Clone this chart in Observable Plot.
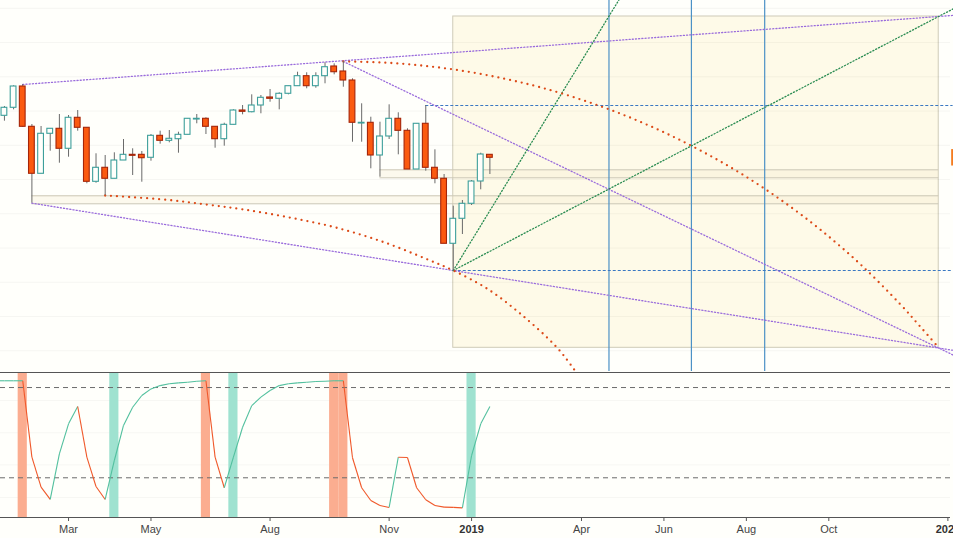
<!DOCTYPE html>
<html><head><meta charset="utf-8">
<script src="https://cdn.jsdelivr.net/npm/d3@7"></script>
<script src="https://cdn.jsdelivr.net/npm/@observablehq/plot@0.6"></script>
<style>
html,body{margin:0;padding:0;background:#fffffb;overflow:hidden}
#chart svg{display:block}
</style></head><body><div id="chart"></div>
<script>
// ---- weekly candles ----
const dates = ["2018-01-15","2018-01-22","2018-01-29","2018-02-05","2018-02-12","2018-02-19","2018-02-26","2018-03-05","2018-03-12","2018-03-19","2018-03-26","2018-04-02","2018-04-09","2018-04-16","2018-04-23","2018-04-30","2018-05-07","2018-05-14","2018-05-21","2018-05-28","2018-06-04","2018-06-11","2018-06-18","2018-06-25","2018-07-02","2018-07-09","2018-07-16","2018-07-23","2018-07-30","2018-08-06","2018-08-13","2018-08-20","2018-08-27","2018-09-03","2018-09-10","2018-09-17","2018-09-24","2018-10-01","2018-10-08","2018-10-15","2018-10-22","2018-10-29","2018-11-05","2018-11-12","2018-11-19","2018-11-26","2018-12-03","2018-12-10","2018-12-17","2018-12-24","2018-12-31","2019-01-07","2019-01-14","2019-01-21"];
const open  = [2786.1,2809.5,2871.7,2754.0,2616.8,2733.6,2748.2,2689.8,2780.3,2751.1,2593.4,2634.3,2602.2,2655.6,2672.2,2672.2,2663.5,2727.7,2713.1,2717.8,2730.6,2775.3,2777.4,2754.0,2717.8,2759.8,2801.6,2796.6,2816.2,2839.6,2835.8,2850.4,2872.6,2901.8,2872.6,2901.8,2930.1,2915.5,2889.2,2763.6,2765.7,2670.2,2725.7,2777.4,2742.3,2629.3,2762.8,2634.3,2602.2,2412.4,2485.4,2529.2,2594.3,2672.2];
const high  = [2813.3,2873.7,2877.5,2760.7,2754.9,2748.2,2789.9,2787.0,2801.6,2751.1,2675.2,2670.2,2678.1,2716.9,2689.8,2681.9,2731.5,2741.2,2743.2,2738.2,2777.4,2789.9,2780.3,2754.0,2764.5,2803.6,2816.2,2847.4,2845.4,2862.9,2853.3,2872.6,2913.4,2911.7,2911.7,2940.9,2938.0,2944.7,2894.2,2821.2,2782.0,2767.4,2818.2,2794.9,2748.2,2762.8,2816.2,2686.8,2614.7,2522.2,2538.8,2597.2,2676.9,2672.2];
const low   = [2770.4,2803.6,2752.0,2530.9,2616.8,2682.8,2647.7,2665.2,2741.2,2587.6,2589.3,2553.4,2602.2,2655.6,2611.8,2592.2,2653.6,2703.2,2707.3,2676.9,2730.6,2762.8,2731.5,2691.5,2697.4,2759.8,2789.0,2794.9,2792.0,2825.8,2803.6,2847.4,2872.6,2865.0,2866.7,2879.6,2905.8,2869.6,2709.0,2709.0,2631.4,2606.8,2716.9,2672.2,2629.3,2629.3,2624.4,2587.6,2412.4,2334.4,2439.5,2524.2,2570.0,2614.7];
const close = [2809.5,2871.7,2754.0,2616.8,2733.6,2748.2,2689.8,2780.3,2751.1,2593.4,2634.3,2602.2,2655.6,2672.2,2669.3,2662.3,2727.7,2713.1,2719.0,2730.6,2777.4,2777.4,2754.0,2717.8,2759.8,2801.6,2797.8,2816.2,2838.7,2835.8,2850.4,2872.6,2901.8,2872.6,2901.8,2928.0,2913.4,2889.2,2765.7,2765.7,2670.2,2725.7,2777.4,2742.3,2629.3,2762.8,2634.3,2602.2,2412.4,2485.4,2529.2,2594.3,2673.1,2663.5];

// ---- price grid (faint) ----
const priceGrid = [2100,2200,2300,2400,2500,2600,2700,2800,2900,3000,3100];

// ---- projection box and zones ----
const boxStart = "2018-12-24", boxEnd = "2019-12-30";
const boxLow = 2108.7, boxHigh = 3076.1;
const zoneStarts = ["2018-02-05","2018-10-29"];
const zoneLows   = [2529.2, 2605.1];
const zoneHighs  = [2552.5, 2628.4];

// ---- time marks (blue verticals) ----
const timeMarks = ["2019-04-22","2019-06-24","2019-08-19"];

// ---- horizontal dashed levels ----
const levelStarts = ["2018-12-03","2018-12-24"];
const levelPrices = [2816.2, 2334.4];
const lineEnd = "2020-01-10";

// ---- trendlines (dotted purple) ----
const trendUpperDates = ["2018-01-29","2020-01-10"], trendUpperPrices = [2877.5, 3079.3];
const trendLowerDates = ["2018-02-05","2020-01-10"], trendLowerPrices = [2530.9, 2101.4];
const trendPeakDates  = ["2018-10-01","2020-01-10"], trendPeakPrices  = [2944.7, 2087.7];

// ---- fan lines (dotted green) ----
const fanSteepDates = ["2018-12-24","2019-05-04"], fanSteepPrices = [2334.4, 3152.0];
const fanFlatDates  = ["2018-12-24","2020-01-10"], fanFlatPrices  = [2334.4, 3098.3];

// ---- arcs (dotted orange) ----
const arcUpperDates = ["2018-10-01","2018-11-01","2018-12-01","2019-01-01","2019-02-01","2019-03-01","2019-04-01","2019-05-01","2019-06-01","2019-07-01","2019-08-01","2019-09-01","2019-10-01","2019-11-01","2019-12-01","2019-12-15","2019-12-30"];
const arcUpperPrices = [2944.7,2941.5,2932.4,2916.9,2894.5,2868.8,2833.1,2792.0,2741.4,2684.5,2617.1,2538.8,2452.1,2349.3,2234.2,2174.4,2108.7];
const arcLowerDates = ["2018-04-02","2018-05-19","2018-06-20","2018-07-17","2018-08-22","2018-09-26","2018-11-01","2018-12-05","2018-12-24","2019-01-19","2019-02-14","2019-03-13","2019-03-27","2019-04-04"];
const arcLowerPrices = [2553.4,2540.9,2526.2,2512.5,2488.3,2459.1,2417.0,2365.6,2334.4,2281.0,2205.9,2110.4,2042.4,2001.5];

// ---- oscillator (lower panel) ----
const oscDates = ["2018-01-08", ...dates];
const oscValues = [84.5,84.5,84.5,84.5,33.7,13.8,5.6,35.9,55.9,67.4,33.7,14.2,5.6,31.5,54.8,66.9,74.7,79.1,81.3,82.5,83.1,83.5,84.2,84.5,33.7,13.4,33.7,53.6,68.0,73.6,78.0,81.3,82.5,83.1,83.5,84.0,84.2,84.5,84.5,33.3,13.4,4.9,1.6,0.3,33.7,33.5,13.4,5.4,1.6,0.5,0.3,0.0,34.8,55.9,67.4];
const oscLevels = [80, 20];
const oscGrid = [71.4, 49.9, 28.6, 6.9];
const sellBands = ["2018-01-29","2018-06-18","2018-09-24","2018-10-01"];
const buyBands  = ["2018-04-09","2018-07-09","2019-01-07"];

// ---- x-axis ticks ----
const monthTicks = ["2018-03-05","2018-05-07","2018-08-06","2018-11-05","2019-04-01","2019-06-03","2019-08-05","2019-10-07"];
const monthLabels = ["Mar","May","Aug","Nov","Apr","Jun","Aug","Oct"];
const yearTicks = ["2019-01-07","2020-01-06"];
const yearLabels = ["2019","2020"];

// ---------- build ----------
const D = s => new Date(s);
const shift = (d, days) => new Date(+d + days * 864e5);
const xDomain = [D("2018-01-12"), D("2020-01-08")];
const UP = "#3d9f9b", DOWN_FILL = "#fb5a10", DOWN_STROKE = "#a52509";
const TEAL = "#52c09e", ORANGE = "#f0582a";
const BG = "#fffffb";
const font = "'Liberation Sans', Arial, sans-serif";

const candles = dates.map((d, i) => ({date: D(d), open: open[i], high: high[i], low: low[i], close: close[i]}));
const pts = (ds, ps) => ds.map((d, i) => ({date: D(d), price: ps[i]}));
const zones = zoneStarts.map((s, i) => ({start: D(s), end: D(boxEnd), lo: zoneLows[i], hi: zoneHighs[i]}));
const zoneLines = zones.flatMap(z => [{start: z.start, end: z.end, y: z.lo}, {start: z.start, end: z.end, y: z.hi}]);
const levels = levelStarts.map((s, i) => ({start: D(s), end: D(lineEnd), y: levelPrices[i]}));
const last = candles[candles.length - 1];

const dotted = {strokeWidth: 1.3, strokeDasharray: "1.1 2.1"};
const purple = "#9a6cdc", green = "#2a8c52";

const topPlot = Plot.plot({
  width: 953, height: 371,
  marginTop: 0, marginBottom: 0, marginLeft: 0, marginRight: 3,
  style: {background: BG, overflow: "hidden", fontFamily: font},
  x: {type: "utc", domain: xDomain, axis: null},
  y: {domain: [2039.5, 3122.8], axis: null},
  marks: [
    Plot.rect([{}], {x1: () => D(boxStart), x2: () => D(boxEnd), y1: () => boxLow, y2: () => boxHigh, fill: "#fefae8", stroke: "#cfcbb8"}),
    Plot.ruleY(priceGrid, {stroke: "#000", strokeOpacity: 0.04}),
    Plot.rect(zones, {x1: "start", x2: "end", y1: "lo", y2: "hi", fill: "#f6ebcc", fillOpacity: 0.3}),
    Plot.ruleY(zoneLines, {y: "y", x1: "start", x2: "end", stroke: "#cbc6b6"}),
    Plot.ruleX(timeMarks.map(D), {stroke: "#4c91c6", strokeWidth: 1.2}),
    Plot.ruleY(levels, {y: "y", x1: "start", x2: "end", stroke: "#3a78c2", strokeDasharray: "3 2"}),
    Plot.line(pts(trendUpperDates, trendUpperPrices), {x: "date", y: "price", stroke: purple, ...dotted}),
    Plot.line(pts(trendLowerDates, trendLowerPrices), {x: "date", y: "price", stroke: purple, ...dotted}),
    Plot.line(pts(trendPeakDates, trendPeakPrices), {x: "date", y: "price", stroke: purple, ...dotted}),
    Plot.line(pts(fanSteepDates, fanSteepPrices), {x: "date", y: "price", stroke: green, ...dotted}),
    Plot.line(pts(fanFlatDates, fanFlatPrices), {x: "date", y: "price", stroke: green, ...dotted}),
    Plot.line(pts(arcUpperDates, arcUpperPrices), {x: "date", y: "price", curve: "catmull-rom", stroke: "#dc4a18", strokeWidth: 2.3, strokeDasharray: "0 6", strokeLinecap: "round"}),
    Plot.line(pts(arcLowerDates, arcLowerPrices), {x: "date", y: "price", curve: "catmull-rom", stroke: "#dc4a18", strokeWidth: 2.3, strokeDasharray: "0 6", strokeLinecap: "round"}),
    Plot.ruleX(candles, {x: "date", y1: "low", y2: "high", stroke: "#6a6a6a"}),
    Plot.rect(candles, {
      x1: d => shift(d.date, -2.2), x2: d => shift(d.date, 2.2),
      y1: "open", y2: "close",
      fill: d => d.close >= d.open ? BG : DOWN_FILL,
      stroke: d => d.close >= d.open ? UP : DOWN_STROKE,
      strokeWidth: 1.1
    }),
    Plot.rect([last], {x1: () => shift(xDomain[1], 0.9), x2: () => shift(xDomain[1], 6), y1: d => d.close - 24, y2: d => d.close + 24, fill: "#f47c20"})
  ]
});

// oscillator segments coloured by direction
const osc = oscDates.map((d, i) => ({date: D(d), v: oscValues[i]}));
let dir = "up";
const segs = [];
for (let i = 1; i < osc.length; i++) {
  const a = osc[i - 1], b = osc[i];
  if (b.v > a.v) dir = "up"; else if (b.v < a.v) dir = "down";
  segs.push({x1: a.date, y1: a.v, x2: b.date, y2: b.v, c: dir === "up" ? TEAL : ORANGE});
}
const bands = [
  ...sellBands.map(d => ({date: D(d), c: "#fbad90"})),
  ...buyBands.map(d => ({date: D(d), c: "#9fe2d0"}))
];
const monthMap = new Map(monthTicks.map((d, i) => [+D(d), monthLabels[i]]));
const yearMap = new Map(yearTicks.map((d, i) => [+D(d), yearLabels[i]]));
const yDom = [-6.4, 90];

const bottomPlot = Plot.plot({
  width: 953, height: 167,
  marginTop: 1, marginBottom: 21, marginLeft: 0, marginRight: 3,
  style: {background: BG, overflow: "hidden", fontFamily: font, fontSize: "11px"},
  x: {type: "utc", domain: xDomain, axis: null},
  y: {domain: yDom, axis: null},
  marks: [
    Plot.ruleY(oscGrid, {stroke: "#000", strokeOpacity: 0.035}),
    Plot.rect(bands, {x1: d => shift(d.date, -3.5), x2: d => shift(d.date, 3.5), fill: "c"}),
    Plot.ruleY(oscLevels, {stroke: "#6c6c6c", strokeDasharray: "5 4"}),
    Plot.link(segs, {x1: "x1", y1: "y1", x2: "x2", y2: "y2", stroke: "c", strokeWidth: 1.1}),
    Plot.ruleY([yDom[1]], {stroke: "#555"}),
    Plot.ruleY([yDom[0]], {stroke: "#555"}),
    Plot.axisX(monthTicks.map(D), {tickSize: 4, tickPadding: 4, stroke: "#555", fill: "#444", fontSize: 11, tickFormat: d => monthMap.get(+d)}),
    Plot.axisX(yearTicks.map(D), {tickSize: 4, tickPadding: 4, stroke: "#555", fill: "#333", fontSize: 11, fontWeight: "bold", tickFormat: d => yearMap.get(+d)})
  ]
});

const host = document.getElementById("chart");
host.appendChild(topPlot);
host.appendChild(bottomPlot);
</script>
</body></html>
